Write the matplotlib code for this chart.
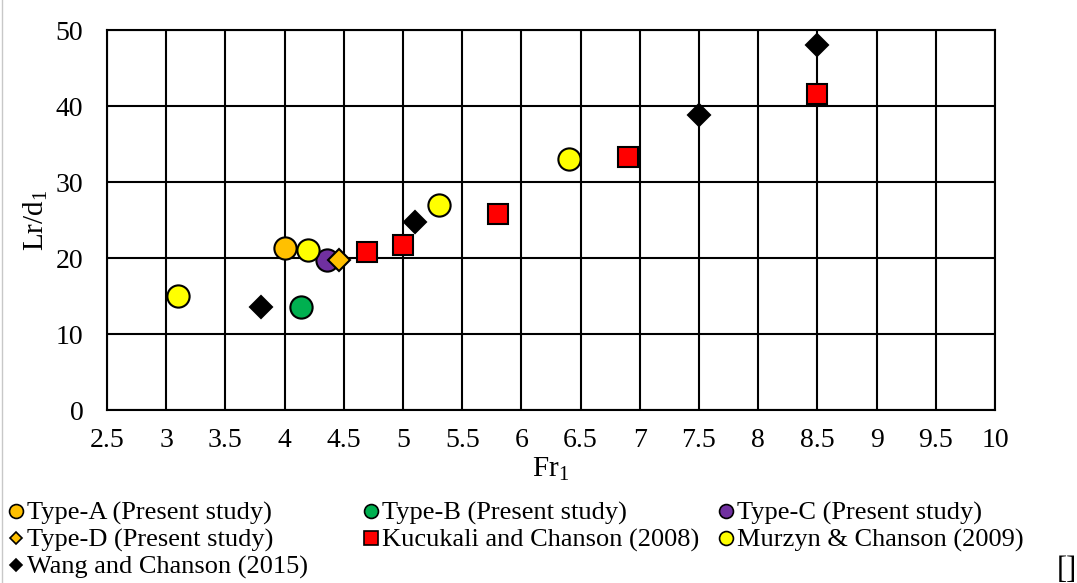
import matplotlib
matplotlib.use('Agg')
import matplotlib.pyplot as plt
from matplotlib.lines import Line2D

plt.rcParams['font.family'] = ['Liberation Serif', 'DejaVu Serif']
plt.rcParams['mathtext.default'] = 'regular'

# data
typeA_fr, typeA_lr = [4.0], [21.3]
typeB_fr, typeB_lr = [4.14], [13.5]
typeC_fr, typeC_lr = [4.36], [19.8]
typeD_fr, typeD_lr = [4.46], [19.8]
kuc_fr = [4.7, 5.0, 5.8, 6.9, 8.5]
kuc_lr = [20.8, 21.7, 25.8, 33.3, 41.6]
mur_fr = [3.1, 4.2, 5.3, 6.4]
mur_lr = [15.0, 21.0, 27.0, 33.0]
wang_fr = [3.8, 5.1, 7.5, 8.5]
wang_lr = [13.5, 24.8, 38.8, 48.0]

x_ticks = [2.5, 3, 3.5, 4, 4.5, 5, 5.5, 6, 6.5, 7, 7.5, 8, 8.5, 9, 9.5, 10]
x_labels = ['2.5', '3', '3.5', '4', '4.5', '5', '5.5', '6', '6.5', '7',
            '7.5', '8', '8.5', '9', '9.5', '10']
y_ticks = [0, 10, 20, 30, 40, 50]

W, H = 1077, 583
fig = plt.figure(figsize=(W / 100, H / 100), dpi=100)
ax = fig.add_axes([107 / W, 1 - 410 / H, 888 / W, 380 / H])

series = [
    ('Type-A (Present study)', typeA_fr, typeA_lr, 'o', '#FFC000', 16),
    ('Type-B (Present study)', typeB_fr, typeB_lr, 'o', '#00B050', 16),
    ('Type-C (Present study)', typeC_fr, typeC_lr, 'o', '#7030A0', 16),
    ('Type-D (Present study)', typeD_fr, typeD_lr, 'D', '#FFC000', 11),
    ('Kucukali and Chanson (2008)', kuc_fr, kuc_lr, 's', '#FF0000', 15),
    ('Murzyn & Chanson (2009)', mur_fr, mur_lr, 'o', '#FFFF00', 16),
    ('Wang and Chanson (2015)', wang_fr, wang_lr, 'D', '#000000', 11),
]

for name, xs, ys, mk, col, ms in series:
    ax.plot(xs, ys, linestyle='none', marker=mk, markersize=ms,
            markerfacecolor=col, markeredgecolor='black',
            markeredgewidth=1.5, zorder=3)

ax.set_xlim(2.5, 10)
ax.set_ylim(0, 50)
ax.set_xticks(x_ticks)
ax.set_xticklabels(x_labels)
ax.set_yticks(y_ticks)
ax.grid(True, color='black', linewidth=1.5)
ax.set_axisbelow(True)
for sp in ax.spines.values():
    sp.set_color('black')
    sp.set_linewidth(1.5)
ax.tick_params(length=0, labelsize=20)
ax.tick_params(axis='x', pad=13)
ax.tick_params(axis='y', pad=17)
ax.set_xlabel('Fr$_1$', fontsize=21, labelpad=2)
ax.set_ylabel('Lr/d$_1$', fontsize=21, labelpad=4)

# legend: Excel-style fixed grid, three columns
col_x = [16, 371, 726]
row_y = [511, 538, 565]
for i, (name, xs, ys, mk, col, ms) in enumerate(series):
    r, c = divmod(i, 3)
    mx, my = col_x[c] / W, 1 - row_y[r] / H
    lms = {'D': 6.5, 's': 9.5}.get(mk, 10)
    fig.add_artist(Line2D([mx], [my], transform=fig.transFigure,
                          linestyle='none', marker=mk, markersize=lms,
                          markerfacecolor=col, markeredgecolor='black',
                          markeredgewidth=1.2))
    fig.text(mx + 11 / W, my, name, fontsize=19, ha='left', va='center_baseline')

fig.text(1067 / W, 1 - 556 / H, '[]', fontsize=22, ha='center', va='top')

# faint frame line on the left edge, as in the screenshot
fig.add_artist(Line2D([2 / W, 2 / W], [0, 1], transform=fig.transFigure,
                      color='#c8c8c8', linewidth=1))

fig.savefig('out.png', dpi=100)
